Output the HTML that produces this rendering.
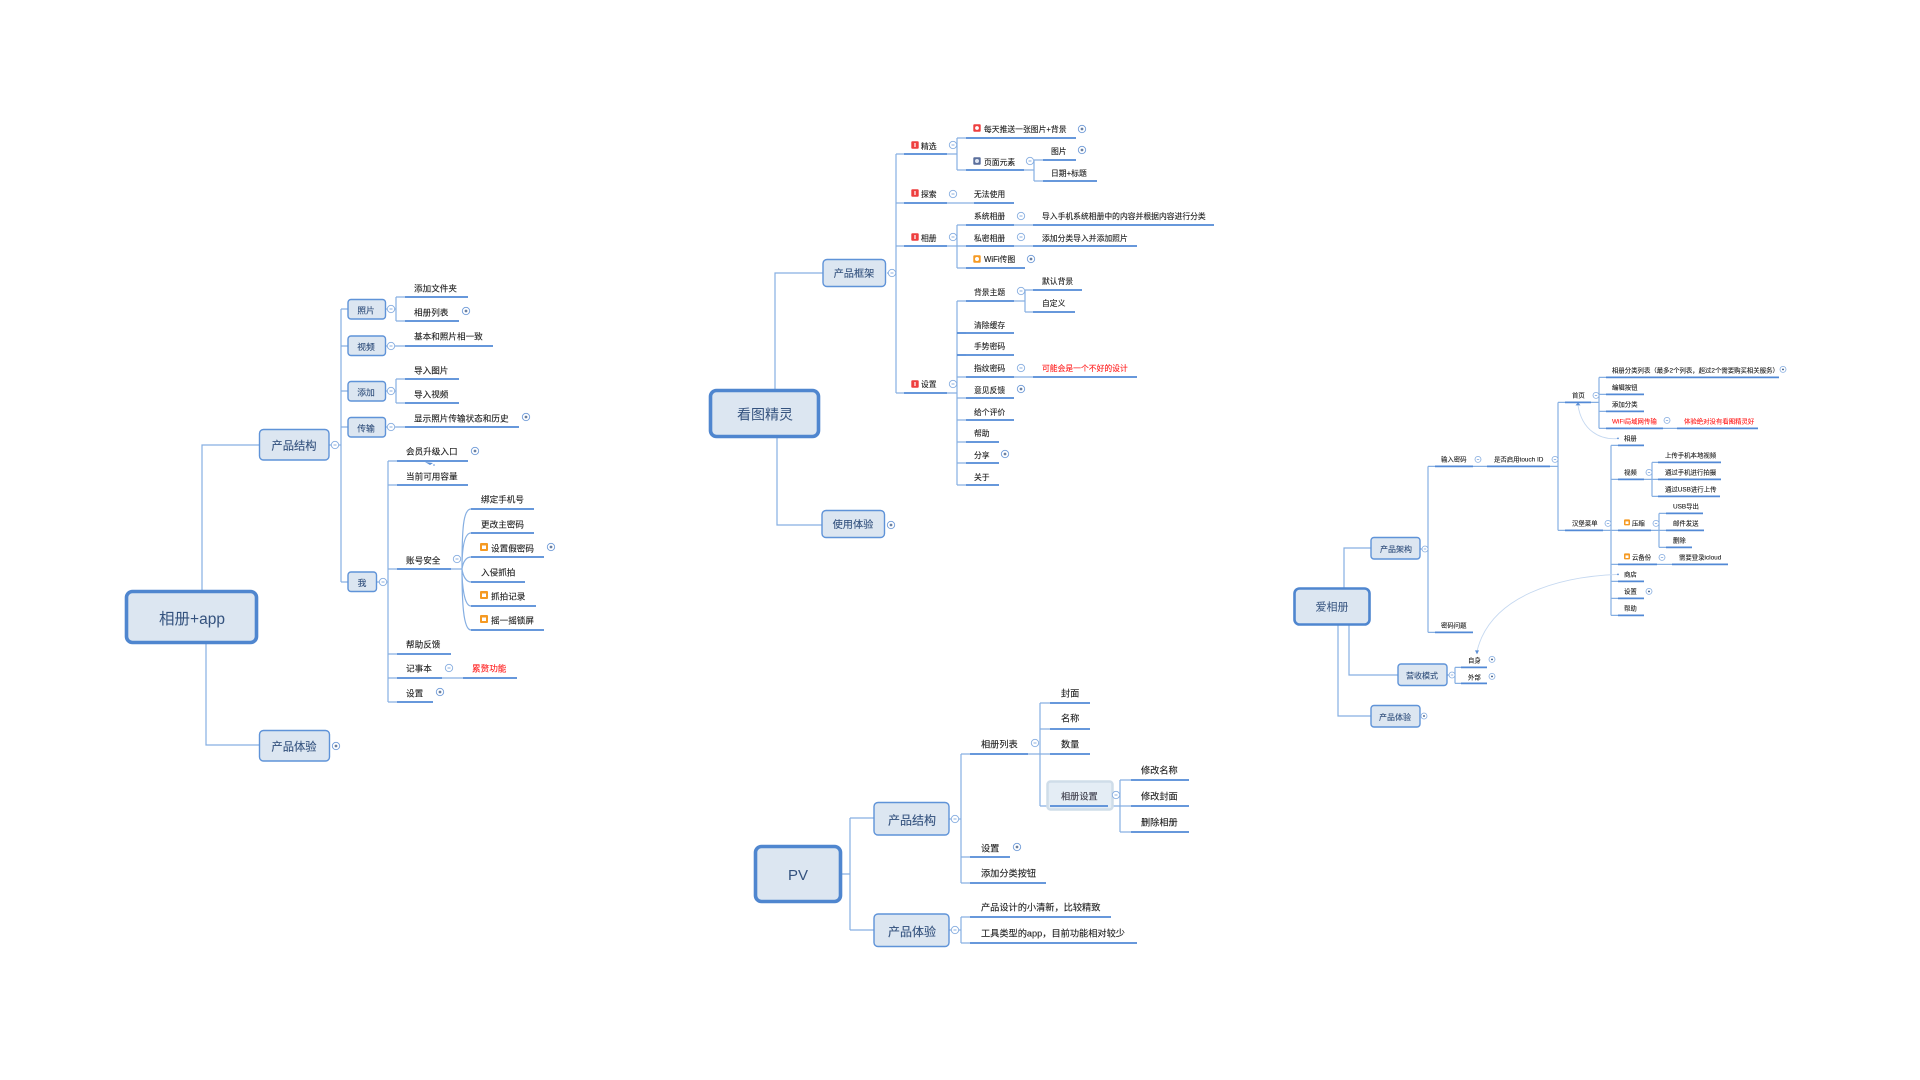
<!DOCTYPE html>
<html lang="zh"><head><meta charset="utf-8"><title>思维导图</title>
<style>
html,body{margin:0;padding:0;background:#fff;width:1920px;height:1080px;overflow:hidden}
svg{display:block;filter:blur(.35px)}
text{font-family:"Liberation Sans","Noto Sans CJK SC",sans-serif;fill:#222;stroke:#222;stroke-width:.12;dominant-baseline:central;transform:translateY(.4px)}
.b{fill:none;stroke:#86afe2;stroke-width:1.2}
.u{fill:none;stroke:#5289d6;stroke-width:1.7}
.n{fill:#dce6f1;stroke:#5f93d8;stroke-width:1.4}
.r{fill:#dce6f1;stroke:#4f86cf;stroke-width:3.6}
text.c{text-anchor:middle;fill:#34527e;stroke:#34527e}
.t1{font-size:8.6px}.t2{font-size:7.8px}.t3{font-size:9.2px}.t4{font-size:6.4px}
text.red{fill:#ff2020;stroke:#ff2020}
</style></head><body>
<svg width="1920" height="1080" viewBox="0 0 1920 1080" xmlns="http://www.w3.org/2000/svg">
<defs>
<g id="m"><circle r="3.7" fill="#fff" stroke="#86ade0" stroke-width=".9"/><path d="M-1.5 0H1.5" stroke="#6f9bd8" stroke-width=".8"/></g>
<g id="p"><circle r="3.7" fill="#fff" stroke="#6f9bd8" stroke-width=".9"/><path d="M-1.4 0H1.4M0 -1.4V1.4" stroke="#34527e" stroke-width=".9"/></g>
<g id="m2"><circle r="3" fill="#fff" stroke="#86ade0" stroke-width=".8"/><path d="M-1.2 0H1.2" stroke="#6f9bd8" stroke-width=".7"/></g>
<g id="p2"><circle r="3" fill="#fff" stroke="#86ade0" stroke-width=".8"/><path d="M-1 0H1M0 -1V1" stroke="#34527e" stroke-width=".8"/></g>
<g id="o"><rect x="-4" y="-4" width="8" height="8" rx="1" fill="#f59a23"/><rect x="-2" y="-1.5" width="4" height="3.5" fill="#fff"/></g>
<g id="o2"><rect x="-3" y="-3" width="6" height="6" rx="1" fill="#f59a23"/><rect x="-1.5" y="-1" width="3" height="2.6" fill="#fff"/></g>
<g id="e"><rect x="-3.7" y="-3.7" width="7.4" height="7.4" rx="1" fill="#ee3f3f"/><rect x="-.6" y="-2" width="1.2" height="4" fill="#fff"/></g>
<g id="h"><rect x="-3.7" y="-3.7" width="7.4" height="7.4" rx="1" fill="#ee3f3f"/><circle r="1.9" fill="#fff"/></g>
<g id="s"><rect x="-3.7" y="-3.7" width="7.4" height="7.4" rx="1" fill="#5b6f9c"/><circle r="2" fill="#dfe6f2"/></g>
<g id="w"><rect x="-3.7" y="-3.7" width="7.4" height="7.4" rx="1" fill="#f59a23"/><circle r="2" fill="#fff"/></g>
</defs>

<!-- Diagram 1 -->
<path class="b" d="M202 590V445H259M206 644V745H259"/>
<path class="b" d="M329 445H341M341 309V582M341 309H348M341 346H348M341 391H348M341 427H348M341 582H348"/>
<path class="b" d="M386 309H396M396 297V321M396 297H405M396 321H405M386 346H405M386 391H396M396 379V403M396 379H405M396 403H405M386 427H405"/>
<path class="b" d="M377 582H388M388 461V702M388 461H397M388 485H397M388 569H397M388 654H397M388 678H397M388 702H397M442 678H463M451 569H462"/>
<path class="b" d="M462 569C462 530 463 509 471 509M462 569C462 550 464 533 471 533M462 569C463 562 466 557 471 557M462 569C463 576 466 582 471 582M462 569C462 585 464 606 471 606M462 569C462 600 463 630 471 630"/>
<path class="u" d="M405 297H468M405 321H459M405 346H493M405 379H459M405 403H459M405 427H519M397 461H468M397 485H468M397 569H451M471 509H534M471 533H534M471 557H544M471 582H525M471 606H536M471 630H544M397 654H451M397 678H442M463 678H517M397 702H433"/>
<path d="M425 462L433 463L430 465Z" fill="#5b8fd6"/><circle cx="434" cy="465" r=".8" fill="#5b8fd6"/>
<rect class="r" x="126.500" y="591.500" width="130" height="51" rx="6"/>
<text class="c" x="192" y="619" font-size="15.500" style="stroke-width:0">相册+app</text>
<rect class="n" x="259.500" y="429.500" width="69.500" height="30.500" rx="4"/><text class="c" x="294" y="446" font-size="11.300">产品结构</text>
<rect class="n" x="259.500" y="730.500" width="70" height="30.500" rx="4"/><text class="c" x="294" y="747" font-size="11.300">产品体验</text>
<rect class="n" x="348" y="299.500" width="37.500" height="19.500" rx="3"/><text class="c" x="366" y="310" font-size="8.800">照片</text>
<rect class="n" x="348" y="336" width="37.500" height="19.500" rx="3"/><text class="c" x="366" y="346.500" font-size="8.800">视频</text>
<rect class="n" x="348" y="381.500" width="37.500" height="19.500" rx="3"/><text class="c" x="366" y="392" font-size="8.800">添加</text>
<rect class="n" x="348" y="417.500" width="37.500" height="19.500" rx="3"/><text class="c" x="366" y="428" font-size="8.800">传输</text>
<rect class="n" x="348" y="572" width="28.500" height="19.500" rx="3"/><text class="c" x="362" y="582.500" font-size="8.800">我</text>
<use href="#m" x="335" y="445"/><use href="#p" x="336" y="746"/>
<use href="#m" x="391" y="309"/><use href="#m" x="391" y="346"/><use href="#m" x="391" y="391"/><use href="#m" x="391" y="427"/><use href="#m" x="383" y="582"/>
<use href="#p" x="466" y="311"/><use href="#p" x="526" y="417"/><use href="#p" x="475" y="451"/><use href="#m" x="457" y="559"/><use href="#p" x="551" y="547"/><use href="#m" x="449" y="668"/><use href="#p" x="440" y="692"/>
<use href="#o" x="484" y="547"/><use href="#o" x="484" y="595"/><use href="#o" x="484" y="619"/>
<text class="t1" x="414" y="288">添加文件夹</text><text class="t1" x="414" y="312">相册列表</text><text class="t1" x="414" y="336">基本和照片相一致</text>
<text class="t1" x="414" y="370">导入图片</text><text class="t1" x="414" y="394">导入视频</text><text class="t1" x="414" y="418">显示照片传输状态和历史</text>
<text class="t1" x="406" y="451">会员升级入口</text><text class="t1" x="406" y="476">当前可用容量</text><text class="t1" x="406" y="560">账号安全</text>
<text class="t1" x="481" y="499">绑定手机号</text><text class="t1" x="481" y="524">更改主密码</text><text class="t1" x="491" y="548">设置假密码</text>
<text class="t1" x="481" y="572">入侵抓拍</text><text class="t1" x="491" y="596">抓拍记录</text><text class="t1" x="491" y="620">摇一摇锁屏</text>
<text class="t1" x="406" y="644">帮助反馈</text><text class="t1" x="406" y="668">记事本</text><text class="t1 red" x="472" y="668">累赘功能</text><text class="t1" x="406" y="693">设置</text>

<!-- Diagram 2 -->
<g transform="translate(-1,0)">
<path class="b" d="M776 389V273H824M778 437V525H823"/>
<path class="b" d="M888 273H897M897 154V393M897 154H905M897 203H905M897 246H905M897 393H905"/>
<path class="b" d="M948 154H958M958 138V170M958 138H967M958 170H967M1025 170H1035M1035 160V181M1035 160H1044M1035 181H1044M948 203H975"/>
<path class="b" d="M948 246H958M958 225V268M958 225H967M958 246H967M958 268H967M1015 225H1034M1015 246H1034"/>
<path class="b" d="M948 393H958M958 301V485M958 301H967M958 333H967M958 355H967M958 377H967M958 398H967M958 420H967M958 442H967M958 463H967M958 485H967M1015 301H1026M1026 290V312M1026 290H1034M1026 312H1034M1015 377H1034"/>
<path class="u" d="M905 154H948M967 138H1077M967 170H1025M1044 160H1077M1044 181H1098M905 203H948M975 203H1015M905 246H948M967 225H1015M1034 225H1215M967 246H1015M1034 246H1138M967 268H1026M905 393H948M967 301H1015M1034 290H1083M1034 312H1076M958 333H1015M958 355H1015M967 377H1015M1034 377H1138M967 398H1015M967 420H1015M967 442H1000M967 463H1000M967 485H1000"/>
<rect class="r" x="711.500" y="390.500" width="108" height="46" rx="6"/><text class="c" x="766" y="414" font-size="14" style="stroke-width:0">看图精灵</text>
<rect class="n" x="824" y="259.500" width="62.500" height="27" rx="4"/><text class="c" x="855" y="274" font-size="10.200">产品框架</text>
<rect class="n" x="823" y="510.500" width="62.500" height="27" rx="4"/><text class="c" x="854" y="525" font-size="10.200">使用体验</text>
<use href="#m" x="893" y="273"/><use href="#p" x="892" y="525"/>
<use href="#m" x="954" y="145"/><use href="#p" x="1083" y="129"/><use href="#p" x="1083" y="150"/><use href="#m" x="1031" y="161"/><use href="#m" x="954" y="194"/><use href="#m" x="1022" y="216"/><use href="#m" x="954" y="237"/><use href="#m" x="1022" y="237"/><use href="#p" x="1032" y="259"/><use href="#m" x="1022" y="291"/><use href="#m" x="1022" y="368"/><use href="#p" x="1022" y="389"/><use href="#p" x="1006" y="454"/><use href="#m" x="954" y="384"/>
<use href="#e" x="916" y="145"/><use href="#e" x="916" y="193"/><use href="#e" x="916" y="237"/><use href="#e" x="916" y="384"/>
<use href="#h" x="978" y="128"/><use href="#s" x="978" y="161"/><use href="#w" x="978" y="259"/>
<text class="t2" x="922" y="146">精选</text><text class="t2" x="985" y="129">每天推送一张图片+背景</text><text class="t2" x="985" y="162">页面元素</text><text class="t2" x="1052" y="151">图片</text><text class="t2" x="1052" y="173">日期+标题</text>
<text class="t2" x="922" y="194">探索</text><text class="t2" x="975" y="194">无法使用</text>
<text class="t2" x="922" y="238">相册</text><text class="t2" x="975" y="216">系统相册</text><text class="t2" x="1043" y="216">导入手机系统相册中的内容并根据内容进行分类</text><text class="t2" x="975" y="238">私密相册</text><text class="t2" x="1043" y="238">添加分类导入并添加照片</text><text class="t2" x="985" y="259">WiFi传图</text>
<text class="t2" x="922" y="384">设置</text><text class="t2" x="975" y="292">背景主题</text><text class="t2" x="1043" y="281">默认背景</text><text class="t2" x="1043" y="303">自定义</text>
<text class="t2" x="975" y="325">清除缓存</text><text class="t2" x="975" y="346">手势密码</text><text class="t2" x="975" y="368">指纹密码</text><text class="t2 red" x="1043" y="368">可能会是一个不好的设计</text><text class="t2" x="975" y="390">意见反馈</text><text class="t2" x="975" y="412">给个评价</text><text class="t2" x="975" y="433">帮助</text><text class="t2" x="975" y="455">分享</text><text class="t2" x="975" y="477">关于</text>
</g>

<!-- Diagram 3 (PV) -->
<path class="b" d="M842 874H850M850 818V930M850 818H874M850 930H874"/>
<path class="b" d="M949 819H961M961 754V883M961 754H970M961 857H970M961 883H970M949 930H961M961 917V943M961 917H970M961 943H970"/>
<path class="b" d="M1028 754H1050M1040 703V806M1040 703H1050M1040 729H1050M1040 806H1050M1108 806H1131M1120 780V832M1120 780H1131M1120 832H1131"/>
<rect x="1047.500" y="781.500" width="65" height="28" rx="3" fill="#e4edf5" stroke="#cfdde9" stroke-width="2.500"/>
<path class="u" d="M970 754H1028M1050 703H1090M1050 729H1090M1050 754H1090M1050 806H1108M1131 780H1189M1131 806H1189M1131 832H1189M970 857H1010M970 883H1046M970 917H1111M970 943H1137"/>
<rect class="r" x="755.500" y="846.500" width="85" height="55" rx="6"/><text class="c" x="798" y="875" font-size="15" style="stroke-width:0">PV</text>
<rect class="n" x="874" y="802.500" width="75" height="32.500" rx="4"/><text class="c" x="912" y="820" font-size="12">产品结构</text>
<rect class="n" x="874" y="914" width="75" height="32.500" rx="4"/><text class="c" x="912" y="931.500" font-size="12">产品体验</text>
<use href="#m" x="955" y="819"/><use href="#m" x="955" y="930"/><use href="#m" x="1035" y="743"/><use href="#m" x="1116" y="795"/><use href="#p" x="1017" y="847"/>
<text class="t3" x="981" y="744">相册列表</text><text class="t3" x="1061" y="693">封面</text><text class="t3" x="1061" y="718">名称</text><text class="t3" x="1061" y="744">数量</text>
<text class="t3" x="1061" y="796" style="fill:#445">相册设置</text>
<text class="t3" x="1141" y="770">修改名称</text><text class="t3" x="1141" y="796">修改封面</text><text class="t3" x="1141" y="822">删除相册</text>
<text class="t3" x="981" y="848">设置</text><text class="t3" x="981" y="873">添加分类按钮</text><text class="t3" x="981" y="907">产品设计的小清新，比较精致</text><text class="t3" x="981" y="933">工具类型的app，目前功能相对较少</text>

<!-- Diagram 4 -->
<path class="b" d="M1344 588V548H1371M1349 625V675H1398M1338 625V716H1371"/>
<path class="b" d="M1420 549H1428M1447 675H1455"/>
<g transform="translate(0,.4)">
<path class="b" d="M1428 466V632M1428 466H1435M1428 632H1435M1473 466H1487M1550 466H1558M1558 402V530M1558 402H1565M1558 530H1565"/>
<path class="b" d="M1591 402H1599M1599 377V428M1599 377H1606M1599 394H1606M1599 411H1606M1599 428H1606M1663 428H1677"/>
<path class="b" d="M1603 530H1611M1611 445V615M1611 445H1618M1611 479H1618M1611 530H1618M1611 564H1618M1611 581H1618M1611 598H1618M1611 615H1618"/>
<path class="b" d="M1644 479H1658M1652 462V496M1652 462H1658M1652 496H1658M1651 530H1666M1659 513V547M1659 513H1666M1659 547H1666M1657 564H1672M1455 667V683M1455 667H1461M1455 683H1461"/>
<path d="M1618 438C1600 440 1582 430 1578 405M1618 574C1560 576 1490 595 1477 651" fill="none" stroke="#c5d8f0" stroke-width=".9"/>
<path d="M1575.500 405H1580.500L1578 402Z" fill="#5b8fd6"/><path d="M1475 650H1479L1477 654Z" fill="#5b8fd6"/><circle cx="1618" cy="438" r=".9" fill="#5b8fd6"/><circle cx="1618" cy="574" r=".9" fill="#5b8fd6"/>
<path class="u" d="M1435 466H1473M1487 466H1550M1565 402H1591M1606 377H1779M1606 394H1644M1606 411H1644M1606 428H1663M1677 428H1758M1565 530H1603M1618 445H1644M1618 479H1644M1658 462H1721M1658 479H1721M1658 496H1720M1618 530H1651M1666 513H1703M1666 530H1704M1666 547H1692M1618 564H1657M1672 564H1728M1618 581H1644M1618 598H1644M1618 615H1644M1435 632H1473M1461 667H1487M1461 683H1487"/>
<use href="#m2" x="1478" y="459"/><use href="#m2" x="1555" y="459"/><use href="#m2" x="1596" y="395"/><use href="#p2" x="1783" y="369"/><use href="#m2" x="1667" y="420"/><use href="#m2" x="1608" y="523"/><use href="#m2" x="1649" y="472"/><use href="#m2" x="1656" y="523"/><use href="#m2" x="1662" y="557"/><use href="#p2" x="1649" y="591"/><use href="#p2" x="1492" y="659"/><use href="#p2" x="1492" y="676"/>
<use href="#o2" x="1627" y="522"/><use href="#o2" x="1627" y="556"/>
<text class="t4" x="1441" y="459">输入密码</text><text class="t4" x="1494" y="459">是否启用touch ID</text><text class="t4" x="1572" y="395">首页</text>
<text class="t4" x="1612" y="370">相册分类列表（最多2个列表，超过2个需要购买相关服务）</text><text class="t4" x="1612" y="387">编辑按钮</text><text class="t4" x="1612" y="404">添加分类</text><text class="t4 red" x="1612" y="421">WiFi局域网传输</text><text class="t4 red" x="1684" y="421">体验绝对没有看图精灵好</text>
<text class="t4" x="1624" y="438">相册</text><text class="t4" x="1624" y="472">视频</text><text class="t4" x="1665" y="455">上传手机本地视频</text><text class="t4" x="1665" y="472">通过手机进行拍摄</text><text class="t4" x="1665" y="489">通过USB进行上传</text>
<text class="t4" x="1572" y="523">汉堡菜单</text><text class="t4" x="1632" y="523">压缩</text><text class="t4" x="1673" y="506">USB导出</text><text class="t4" x="1673" y="523">邮件发送</text><text class="t4" x="1673" y="540">删除</text>
<text class="t4" x="1632" y="557">云备份</text><text class="t4" x="1679" y="557">需要登录icloud</text><text class="t4" x="1624" y="574">商店</text><text class="t4" x="1624" y="591">设置</text><text class="t4" x="1624" y="608">帮助</text>
<text class="t4" x="1441" y="625">密码问题</text><text class="t4" x="1468" y="660">自身</text><text class="t4" x="1468" y="677">外部</text>
</g>
<rect class="r" x="1294.500" y="588.500" width="75" height="36" rx="5" style="stroke-width:2.600"/><text class="c" x="1332" y="607" font-size="11" style="stroke-width:0">爱相册</text>
<rect class="n" x="1371" y="537.500" width="49" height="21.500" rx="3"/><text class="c" x="1396" y="549" font-size="8">产品架构</text>
<rect class="n" x="1398" y="664" width="49" height="21.500" rx="3"/><text class="c" x="1422" y="675.500" font-size="8">营收模式</text>
<rect class="n" x="1371" y="705.500" width="49" height="21.500" rx="3"/><text class="c" x="1395" y="717" font-size="8">产品体验</text>
<use href="#m2" x="1425" y="549"/><use href="#m2" x="1452" y="675"/><use href="#p2" x="1424" y="716"/>
</svg>
</body></html>
